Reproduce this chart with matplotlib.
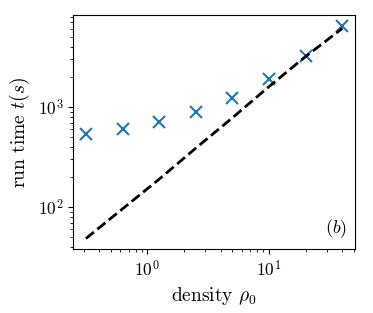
import matplotlib
matplotlib.use("Agg")
import matplotlib.pyplot as plt

plt.rcParams["font.family"] = "serif"
plt.rcParams["font.serif"] = ["cmr10", "DejaVu Serif"]
plt.rcParams["mathtext.fontset"] = "cm"
plt.rcParams["axes.formatter.use_mathtext"] = True
plt.rcParams["font.size"] = 12.5

# density rho_0 and measured run times (s)
density = [0.3125, 0.625, 1.25, 2.5, 5, 10, 20, 40]
run_time = [537, 603, 708, 897, 1230, 1905, 3210, 6500]
# reference scaling (dashed)
ref_time = [48.5, 96, 190, 388, 780, 1600, 3200, 6100]

fig = plt.figure(figsize=(3.73, 3.13), dpi=100)
ax = fig.add_axes([0.196, 0.204, 0.756, 0.748])

ax.plot(density, run_time, "x", color="#1f77b4", markersize=9, markeredgewidth=1.5)
ax.plot(density, ref_time, "--", color="black", linewidth=2)

ax.set_xscale("log")
ax.set_yscale("log")
ax.set_xlabel(r"density $\rho_0$", fontsize=14)
ax.set_ylabel(r"run time $t(s)$", fontsize=14)
ax.text(0.97, 0.04, r"$(b)$", transform=ax.transAxes, ha="right", va="bottom",
        fontsize=13)

fig.savefig("out.png", dpi=100)
